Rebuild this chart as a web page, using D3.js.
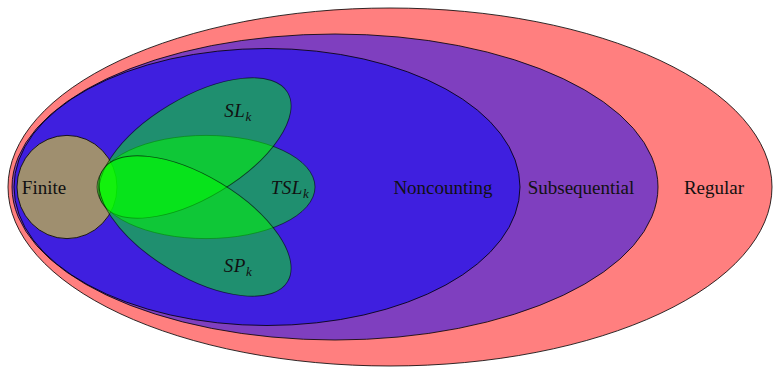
<!DOCTYPE html>
<html>
<head>
<meta charset="utf-8">
<script src="https://cdn.jsdelivr.net/npm/d3@7"></script>
<style>
  body { margin: 0; background: #fff; }
  text { font-family: "Liberation Serif", "DejaVu Serif", serif; fill: #111; }
</style>
</head>
<body>
<div id="chart"></div>
<script>
// language classes, drawn back to front
var sets   = ["Regular", "Subsequential", "Noncounting", "Finite", "TSL", "SL", "SP"];
var labels = ["Regular", "Subsequential", "Noncounting", "Finite", "TSL", "SL", "SP"];
var isMath = [false, false, false, false, true, true, true];
// ellipse centres, radii and tilt in diagram units
var centerX = [0, -1.375, -3.075, -8.075, -4.6, -4.875, -4.875];
var centerY = [0, 0, 0, 0, 0, 0.975, -0.975];
var radiusX = [9.55, 8.075, 6.325, 1.25, 2.725, 2.7, 2.7];
var radiusY = [4.475, 3.825, 3.4625, 1.29, 1.29, 1.25, 1.25];
var tilt    = [0, 0, 0, 0, 0, 31, -31];
// where each label sits
var labelX = [8.1, 4.775, 1.325, -8.65, -2.5, -3.8, -3.8];
var labelY = [0, 0, 0, 0, 0, 1.925, -1.95];
var fills  = ["#ff0000", "#0000ff", "#0000ff", "#ffff00", "#00ff00", "#00ff00", "#00ff00"];

var width = 774, height = 367;

var x = d3.scaleLinear().domain([-9.75, 9.6]).range([0, width]);
var y = d3.scaleLinear().domain([4.675, -4.5]).range([0, height]);
var kx = x(1) - x(0), ky = y(0) - y(1);

var data = sets.map(function (s, i) {
  return { name: s, label: labels[i], math: isMath[i], cx: centerX[i], cy: centerY[i],
           rx: radiusX[i], ry: radiusY[i], tilt: tilt[i], lx: labelX[i], ly: labelY[i], fill: fills[i] };
});

var svg = d3.select("#chart").append("svg")
  .attr("width", width)
  .attr("height", height);

svg.selectAll("ellipse")
  .data(data)
  .enter()
  .append("ellipse")
  .attr("transform", function (d) {
    return "translate(" + x(d.cx) + "," + y(d.cy) + ") rotate(" + (-d.tilt) + ")";
  })
  .attr("rx", function (d) { return d.rx * kx; })
  .attr("ry", function (d) { return d.ry * ky; })
  .style("fill", function (d) { return d.fill; })
  .style("fill-opacity", 0.5)
  .style("stroke", "#000")
  .style("stroke-opacity", function (d) { return d.math ? 0.6 : 0.9; })
  .style("stroke-width", 0.9);

var lab = svg.selectAll(".label")
  .data(data)
  .enter()
  .append("text")
  .attr("class", "label")
  .attr("x", function (d) { return x(d.lx); })
  .attr("y", function (d) { return y(d.ly); })
  .attr("dy", "0.35em")
  .style("text-anchor", "middle")
  .style("font-size", "19px");

lab.filter(function (d) { return !d.math; })
  .text(function (d) { return d.label; });

var m = lab.filter(function (d) { return d.math; })
  .style("font-style", "italic")
  .style("letter-spacing", "0.5px");
m.append("tspan").text(function (d) { return d.label; });
m.append("tspan")
  .attr("dy", "0.3em")
  .style("font-size", "13px")
  .text("k");
</script>
</body>
</html>
